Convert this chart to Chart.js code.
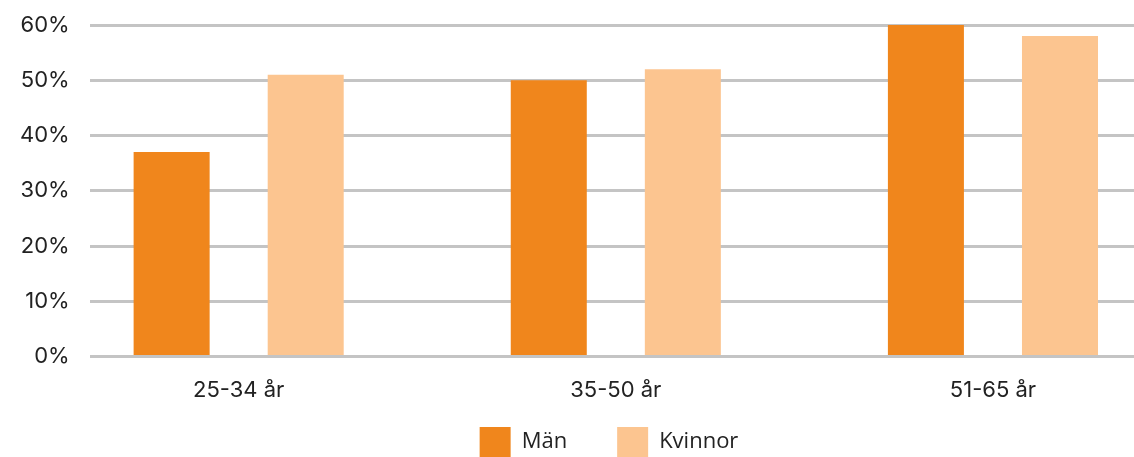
<!DOCTYPE html>
<html lang="sv">
<head>
<meta charset="UTF-8" />
<title>Andel per åldersgrupp</title>
<script src="https://cdn.jsdelivr.net/npm/chart.js"></script>
<style>
  html, body { margin: 0; padding: 0; background: #fff; }
  #wrap { width: 1134px; height: 457px; }
</style>
</head>
<body>
<div id="wrap"><canvas id="chart"></canvas></div>
<script>
  const ageGroups = ["25-34 år", "35-50 år", "51-65 år"];
  const men = [37, 50, 60];
  const women = [51, 52, 58];

  const axisFont = { family: "Inter, 'Noto Sans', sans-serif", size: 22 };

  // bars sit on a linear x scale so the first group can be placed off-centre
  const toPoints = (vals) => vals.map((v, i) => ({ x: i, y: v }));

  // nudge the legend row to the right of the canvas centre
  const legendShift = {
    id: "legendShift",
    afterLayout(chart) {
      chart.legend.left += 42;
      chart.legend.right += 42;
    },
  };

  new Chart(document.getElementById("chart"), {
    type: "bar",
    data: {
      datasets: [
        { label: "Män", data: toPoints(men), backgroundColor: "#F0861C" },
        { label: "Kvinnor", data: toPoints(women), backgroundColor: "#FCC590" },
      ],
    },
    options: {
      responsive: true,
      maintainAspectRatio: false,
      animation: false,
      categoryPercentage: 0.711,
      barPercentage: 0.567,
      layout: { padding: { top: 25, right: 0, left: 0, bottom: -10 } },
      scales: {
        x: {
          type: "linear",
          offset: false,
          min: -0.395,
          max: 2.374,
          grid: { display: false },
          border: { display: false },
          afterBuildTicks: (scale) => {
            scale.ticks = ageGroups.map((_, i) => ({ value: i }));
          },
          ticks: {
            color: "#222",
            font: axisFont,
            padding: 13,
            callback: (v) => ageGroups[v],
          },
        },
        y: {
          min: 0,
          max: 60,
          grid: { color: "#C4C4C4", lineWidth: 3, drawTicks: false },
          border: { display: false },
          // tick padding is only meant to push labels left, not the top down
          afterFit: (scale) => {
            scale.paddingTop = 0;
          },
          ticks: {
            stepSize: 10,
            color: "#222",
            font: axisFont,
            padding: 20,
            callback: (v) => v + "%",
          },
        },
      },
      plugins: {
        tooltip: { enabled: false },
        legend: {
          position: "bottom",
          labels: {
            boxWidth: 31,
            boxHeight: 30,
            padding: 10,
            color: "#222",
            font: { family: "'Open Sans', 'Noto Sans', sans-serif", size: 22 },
            generateLabels: (chart) => {
              const items = Chart.defaults.plugins.legend.labels.generateLabels(chart);
              items[0].text += "       ";
              return items;
            },
          },
        },
      },
    },
    plugins: [legendShift],
  });
</script>
</body>
</html>
